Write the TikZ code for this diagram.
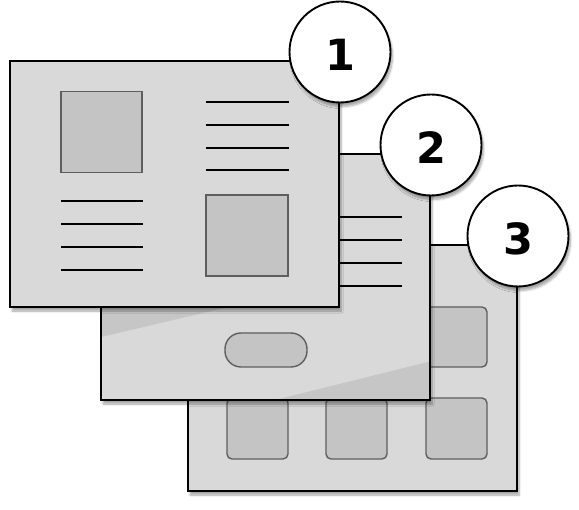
\documentclass[tikz,border=0pt]{standalone}
\usepackage{fontspec}
\setmainfont{DejaVu Sans}
\usetikzlibrary{shadows.blur}
\definecolor{pagegray}{HTML}{D9D9D9}
\definecolor{glossgray}{HTML}{C6C6C6}
\definecolor{boxgray}{HTML}{C4C4C4}
\definecolor{boxedge}{HTML}{5E5E5E}
\tikzset{
  page/.style={draw=black, line width=1.9pt, fill=pagegray, outer sep=0pt, inner sep=0pt, anchor=north west,
    blur shadow={shadow xshift=2pt, shadow yshift=-4pt, shadow blur steps=6, shadow opacity=35}},
  imgbox/.style={draw=boxedge, line width=1.4pt, fill=boxgray, outer sep=0pt, inner sep=0pt, anchor=north west},
  rbox/.style={imgbox, rounded corners=5pt},
  pill/.style={imgbox, rounded corners=16pt},
  textline/.style={draw=black, line width=1.7pt},
  numcircle/.style={circle, draw=black, line width=1.9pt, fill=white, minimum size=101pt, inner sep=0pt,
    font=\fontsize{43}{43}\selectfont\bfseries, text height=37pt, text depth=0pt,
    blur shadow={shadow xshift=2pt, shadow yshift=-4pt, shadow blur steps=6, shadow opacity=35}}
}
\begin{document}
\begin{tikzpicture}[x=1pt,y=-1pt]
\useasboundingbox (0,0) rectangle (579,510);
% page 3
\node[page, minimum width=329pt, minimum height=246pt] (p3) at (188,245) {};
\node[rbox, minimum width=61pt, minimum height=60pt] (b31) at (227,307) {};
\node[rbox, minimum width=61pt, minimum height=60pt] (b32) at (326,307) {};
\node[rbox, minimum width=61pt, minimum height=60pt] (b33) at (426,307) {};
\node[rbox, minimum width=61pt, minimum height=61pt] (b34) at (227,398) {};
\node[rbox, minimum width=61pt, minimum height=61pt] (b35) at (326,398) {};
\node[rbox, minimum width=61pt, minimum height=61pt] (b36) at (426,398) {};
\node[numcircle] (c3) at (518,236) {3};
% page 2
\node[page, minimum width=329pt, minimum height=246pt] (p2) at (101,154) {};
\fill[glossgray] (101,290) -- (101,337) -- (301,290) -- cycle;
\fill[glossgray] (275,400) -- (430,400) -- (430,361.5) -- cycle;
\draw[line width=1.9pt] (p2.north west) rectangle (p2.south east);
\foreach \yy in {217,240,263,286} \draw[textline] (300,\yy) -- (402,\yy);
\node[pill, minimum width=82pt, minimum height=34pt] (btn) at (225,333) {};
\node[numcircle] (c2) at (431,145) {2};
% page 1
\node[page, minimum width=329pt, minimum height=246pt] (p1) at (10,61) {};
\node[imgbox, minimum width=81pt, minimum height=81pt] (b11) at (61,91.5) {};
\node[imgbox, minimum width=82pt, minimum height=81pt] (b12) at (206,195) {};
\foreach \yy in {102,125,148,170} \draw[textline] (206,\yy) -- (289,\yy);
\foreach \yy in {201,224,247,270} \draw[textline] (61,\yy) -- (143,\yy);
\node[numcircle] (c1) at (340,52) {1};
\end{tikzpicture}
\end{document}
